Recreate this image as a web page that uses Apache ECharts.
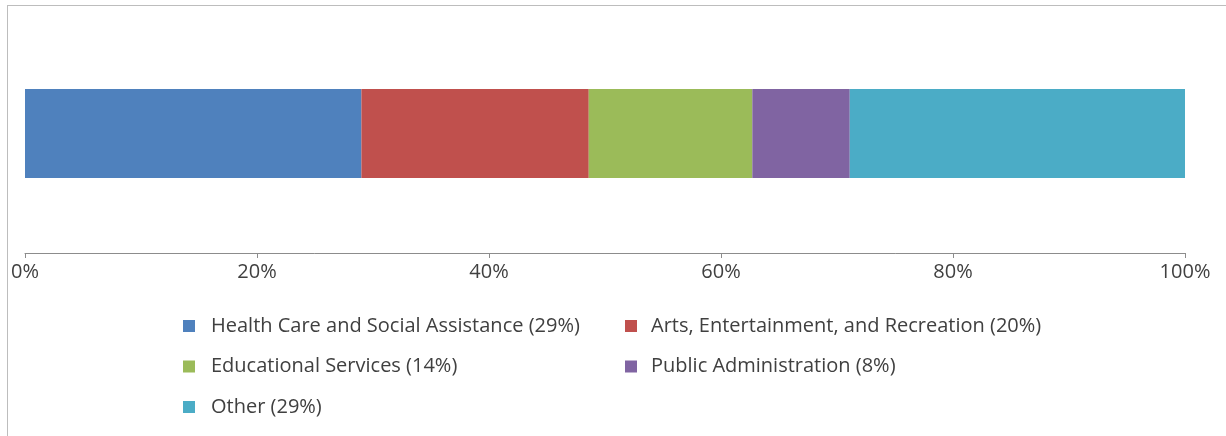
<!DOCTYPE html>
<html>
<head>
<meta charset="utf-8">
<script src="https://cdn.jsdelivr.net/npm/echarts@6/dist/echarts.min.js"></script>
<style>
  html, body { margin: 0; padding: 0; background: #ffffff; }
  #frame { position: absolute; left: 7px; top: 5px; width: 1230px; height: 440px; border: 1px solid #bdbdbd; box-sizing: border-box; }
  #chart { position: absolute; left: 0; top: 0; width: 1226px; height: 436px; }
</style>
</head>
<body>
<div id="frame"></div>
<div id="chart"></div>
<script>
const categories = ['Share'];
const seriesNames = [
  'Health Care and Social Assistance (29%)',
  'Arts, Entertainment, and Recreation (20%)',
  'Educational Services (14%)',
  'Public Administration (8%)',
  'Other (29%)'
];
const seriesValues = [29.0, 19.6, 14.1, 8.4, 28.9];
const seriesColors = ['#4F81BD', '#C0504D', '#9BBB59', '#8064A2', '#4BACC6'];
const xTicks = [0, 20, 40, 60, 80, 100];

const chart = echarts.init(document.getElementById('chart'), null, { renderer: 'canvas' });
const fontFamily = '"Open Sans", "Liberation Sans", sans-serif';

function legendCfg(left, pad, names) {
  return {
    orient: 'vertical',
    left: left,
    top: 309,
    icon: 'rect',
    itemWidth: 12,
    itemHeight: 12,
    itemGap: 16.5,
    selectedMode: false,
    data: names,
    textStyle: { fontFamily: fontFamily, fontSize: 20, color: '#404040', lineHeight: 24, padding: [0, 0, 0, pad] }
  };
}

chart.setOption({
  animation: false,
  backgroundColor: 'transparent',
  grid: { left: 25, right: 41, top: 14, bottom: 183 },
  legend: [
    legendCfg(178, 11, [seriesNames[0], seriesNames[2], seriesNames[4]]),
    legendCfg(620, 9, [seriesNames[1], seriesNames[3]])
  ],
  xAxis: {
    type: 'value',
    min: xTicks[0],
    max: xTicks[xTicks.length - 1],
    interval: 20,
    axisLine: { show: true, lineStyle: { color: '#8c8c8c', width: 1 } },
    axisTick: { show: true, length: 5, lineStyle: { color: '#8c8c8c' } },
    splitLine: { show: false },
    axisLabel: { formatter: '{value}%', fontFamily: fontFamily, fontSize: 20, color: '#404040', margin: 9 }
  },
  yAxis: {
    type: 'category',
    data: categories,
    show: false
  },
  series: seriesNames.map((name, i) => ({
    name: name,
    type: 'bar',
    stack: 'total',
    barWidth: 89,
    itemStyle: { color: seriesColors[i] },
    data: [seriesValues[i]]
  }))
});
</script>
</body>
</html>
